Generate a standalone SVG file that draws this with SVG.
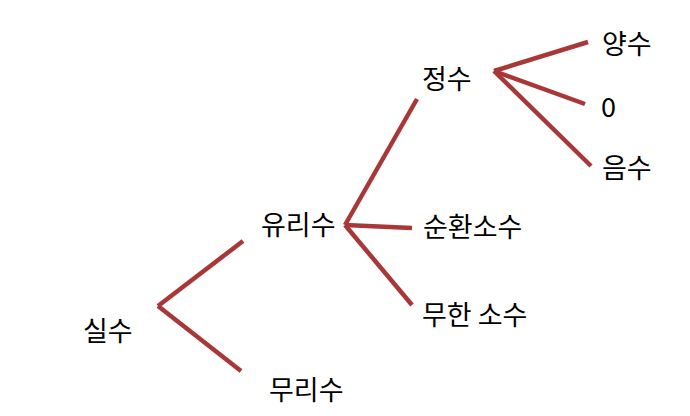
<svg xmlns="http://www.w3.org/2000/svg" width="690" height="416" viewBox="0 0 690 416">
<style>
.t{font-family:"Noto Sans CJK KR","Noto Sans",sans-serif;font-size:27px;fill:#000}
.c line{stroke:#a83838;stroke-width:4.5;stroke-linecap:butt}
</style>
<rect width="690" height="416" fill="#fff"/>
<g class="c" id="connectors">
<line x1="158" y1="306" x2="243" y2="241"/>
<line x1="158" y1="306" x2="241" y2="371"/>
<line x1="345" y1="225" x2="417" y2="99"/>
<line x1="345" y1="225" x2="412" y2="228"/>
<line x1="345" y1="225" x2="412" y2="305"/>
<line x1="494" y1="71" x2="588" y2="42"/>
<line x1="494" y1="71" x2="585" y2="104"/>
<line x1="494" y1="71" x2="591" y2="166"/>
</g>
<g id="n-silsu"><text class="t" x="83" y="341">실수</text></g>
<g id="n-murisu"><text class="t" x="269" y="400">무리수</text></g>
<g id="n-yurisu"><text class="t" x="261" y="235">유리수</text></g>
<g id="n-jeongsu"><text class="t" x="422" y="89">정수</text></g>
<g id="n-sunhwan"><text class="t" x="423" y="237">순환소수</text></g>
<g id="n-muhan"><text class="t" x="422" y="325">무한 소수</text></g>
<g id="n-yangsu"><text class="t" x="602" y="54">양수</text></g>
<g id="n-zero"><text class="t" x="601" y="117">0</text></g>
<g id="n-eumsu"><text class="t" x="602" y="178">음수</text></g>
</svg>
